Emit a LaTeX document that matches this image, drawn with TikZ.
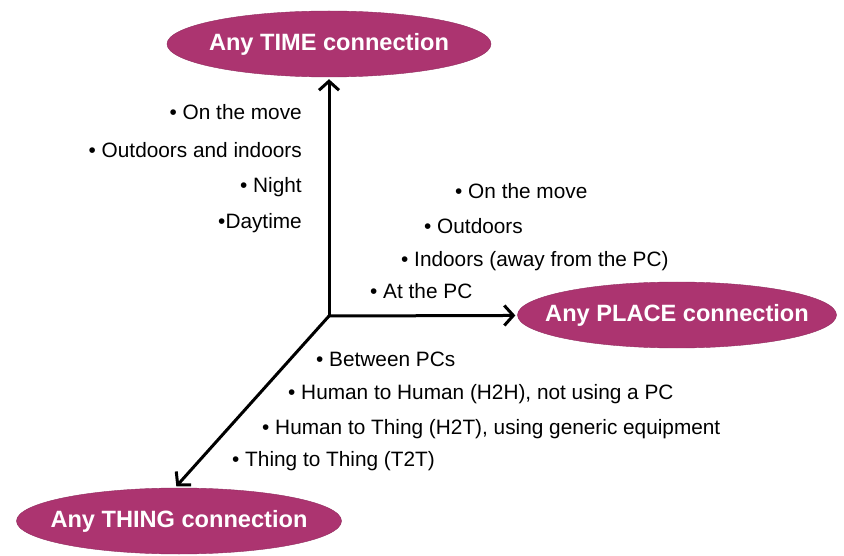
\documentclass[tikz,border=0pt]{standalone}
\usepackage{fontspec}
\setmainfont{Liberation Sans}
\usetikzlibrary{arrows.meta,shapes.geometric}
\definecolor{anypink}{RGB}{172,52,112}
\tikzset{
	anyconn/.style={ellipse, fill=anypink, draw=anypink!85!black, minimum width=324pt, minimum height=66pt, inner xsep=-40pt, inner ysep=0pt, text=white, font=\fontsize{23.6}{27}\selectfont\bfseries},
	axis/.style={line width=3pt, ->, shorten >=2pt},
	item/.style={inner sep=0pt}
}
\begin{document}
\begin{tikzpicture}[x=1pt, y=-1pt, font=\fontsize{20.8}{24}\selectfont, line join=round, line cap=round, >={Straight Barb[length=9pt,width=20pt]}]
		\useasboundingbox (0,0) rectangle (844,556);
		\path (329,316) coordinate (O)
		(329,44) node[anyconn] (T) {Any TIME connection}
		(677,315) node[anyconn, minimum width=319pt] (P) {Any PLACE connection}
		(179,521) node[anyconn, minimum width=325pt] (H) {Any THING connection}
		;
		\draw[axis] (O)--(T);
		\draw[axis] (O)--(P);
		\draw[axis] (O)--([xshift=-4pt]H.north);
		% time
		\foreach \t/\y [count=\i] in {{• On the move}/112,{• Outdoors and indoors}/150,{• Night}/187,{•Daytime}/223}{
			\path (302,\y) node[item, anchor=east] (time\i) {\t};}
		% place
		\foreach \t/\x/\y [count=\i] in {{• On the move}/455/191,{• Outdoors}/424/226,{• Indoors (away from the PC)}/401/261,{• At the PC}/370/291}{
			\path (\x,\y) node[item, anchor=west] (place\i) {\t};}
		% thing
		\foreach \t/\x/\y [count=\i] in {{• Between PCs}/316/359,{• Human to Human (H2H), not using a PC}/288/394,{• Human to Thing (H2T), using generic equipment}/262/429,{• Thing to Thing (T2T)}/232/461}{
			\path (\x,\y) node[item, anchor=west] (thing\i) {\t};}
		\end{tikzpicture}
\end{document}
